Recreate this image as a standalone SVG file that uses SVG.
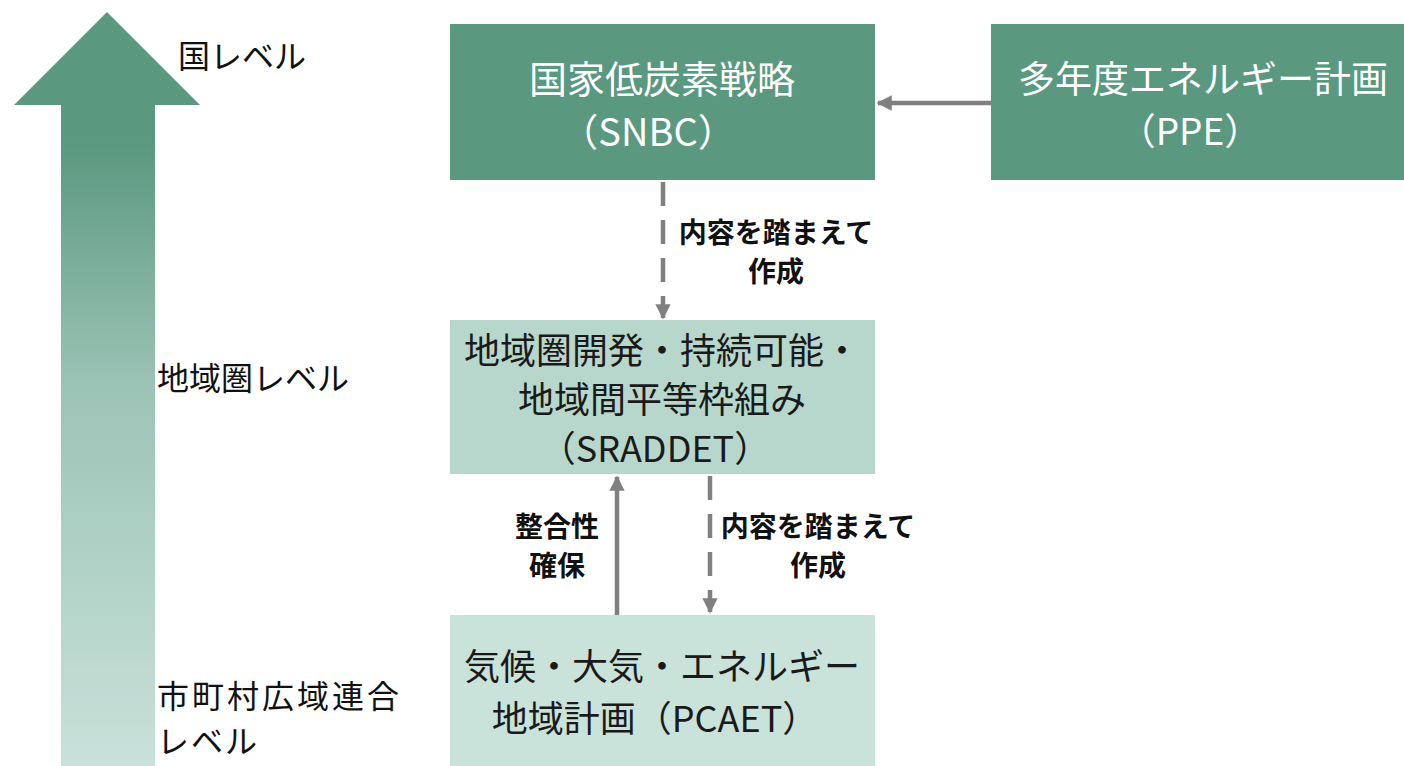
<svg xmlns="http://www.w3.org/2000/svg" width="1404" height="766" viewBox="0 0 1404 766">
<defs>
<linearGradient id="g" x1="0" y1="0" x2="0" y2="1" gradientUnits="objectBoundingBox">
<stop offset="0" stop-color="#5a9880"/>
<stop offset="0.17" stop-color="#5a9880"/>
<stop offset="0.5" stop-color="#9cc4b6"/>
<stop offset="1" stop-color="#c9e1da"/>
</linearGradient>
<marker id="ah" viewBox="0 0 10 10" refX="9" refY="5" markerWidth="3.4" markerHeight="3.4" orient="auto-start-reverse" markerUnits="strokeWidth">
<path d="M0,0 L10,5 L0,10 z" fill="#808080"/>
</marker>
<style>
.dark{fill:#5a9880}
.light{fill:#b8d7cc}
.lighter{fill:#c9e2da}
.t{font-family:"Noto Sans CJK JP","Noto Sans",sans-serif;text-anchor:middle}
.w{fill:#ffffff;font-size:37px}
.k{fill:#1a1a1a;font-size:36px}
.lab{font-family:"Noto Sans CJK JP","Noto Sans",sans-serif;fill:#111;font-size:32px}
.b{font-family:"Noto Sans CJK JP","Noto Sans",sans-serif;font-weight:bold;font-size:28px;fill:#111;text-anchor:middle}
.c{stroke:#808080;stroke-width:4.5;fill:none}
.d{stroke-dasharray:24 14}
</style>
</defs>
<rect width="1404" height="766" fill="#ffffff"/>
<g id="levelArrow">
<path d="M107,12 L200,105 L155,105 L155,766 L61,766 L61,105 L14,105 Z" fill="url(#g)"/>
</g>
<g id="levels">
<text class="lab" x="178" y="68">国レベル</text>
<text class="lab" x="157" y="390">地域圏レベル</text>
<text class="lab" x="157" y="708" style="font-size:32px;letter-spacing:3px">市町村広域連合</text>
<text class="lab" x="157" y="753" style="font-size:32px;letter-spacing:2px">レベル</text>
</g>
<g id="snbc">
<rect class="dark" x="450" y="24" width="425" height="156"/>
<text class="t w" x="662" y="93" style="font-size:38px">国家低炭素戦略</text>
<text class="t w" x="648" y="146" style="font-size:38px">（SNBC）</text>
</g>
<g id="ppe">
<rect class="dark" x="991" y="24" width="413" height="156"/>
<text class="t w" x="1203" y="93">多年度エネルギー計画</text>
<text class="t w" x="1190" y="145">（PPE）</text>
</g>
<g id="sraddet">
<rect class="light" x="450" y="320" width="425" height="154"/>
<text class="t k" x="662" y="364">地域圏開発・持続可能・</text>
<text class="t k" x="662" y="413">地域間平等枠組み</text>
<text class="t k" x="655" y="462">（SRADDET）</text>
</g>
<g id="pcaet">
<rect class="lighter" x="450" y="615" width="425" height="151"/>
<text class="t k" x="662" y="680">気候・大気・エネルギー</text>
<text class="t k" x="655" y="732">地域計画（PCAET）</text>
</g>
<g id="connectors">
<line class="c" x1="991" y1="103" x2="878" y2="103" marker-end="url(#ah)"/>
<line class="c d" x1="663" y1="182" x2="663" y2="318" marker-end="url(#ah)"/>
<line class="c" x1="617" y1="615" x2="617" y2="477" marker-end="url(#ah)"/>
<line class="c d" x1="710" y1="476" x2="710" y2="612" marker-end="url(#ah)"/>
</g>
<g id="labels">
<text class="b" x="776" y="243">内容を踏まえて</text>
<text class="b" x="776" y="282">作成</text>
<text class="b" x="818" y="537">内容を踏まえて</text>
<text class="b" x="818" y="576">作成</text>
<text class="b" x="557" y="537">整合性</text>
<text class="b" x="557" y="576">確保</text>
</g>
</svg>
